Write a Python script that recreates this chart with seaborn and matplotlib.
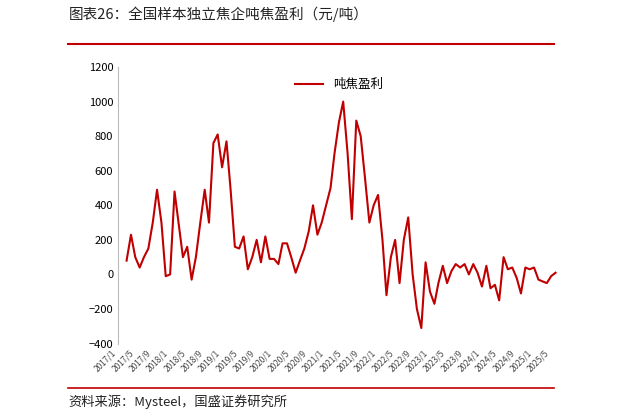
import matplotlib
matplotlib.use("Agg")
import matplotlib.pyplot as plt
import seaborn as sns
import pandas as pd
import numpy as np

dates = ["2017-03","2017-04","2017-05","2017-06","2017-07","2017-08","2017-09","2017-10","2017-11","2017-12",
"2018-01","2018-02","2018-03","2018-04","2018-05","2018-06","2018-07","2018-08","2018-09","2018-10","2018-11","2018-12",
"2019-01","2019-02","2019-03","2019-04","2019-05","2019-06","2019-07","2019-08","2019-09","2019-10","2019-11","2019-12",
"2020-01","2020-02","2020-03","2020-04","2020-05","2020-06","2020-07","2020-08","2020-09","2020-10","2020-11","2020-12",
"2021-01","2021-02","2021-03","2021-04","2021-05","2021-06","2021-07","2021-08","2021-09","2021-10","2021-11","2021-12",
"2022-01","2022-02","2022-03","2022-04","2022-05","2022-06","2022-07","2022-08","2022-09","2022-10","2022-11","2022-12",
"2023-01","2023-02","2023-03","2023-04","2023-05","2023-06","2023-07","2023-08","2023-09","2023-10","2023-11","2023-12",
"2024-01","2024-02","2024-03","2024-04","2024-05","2024-06","2024-07","2024-08","2024-09","2024-10","2024-11","2024-12",
"2025-01","2025-02","2025-03","2025-04","2025-05","2025-06"]
profit = [80,230,100,40,100,150,300,490,300,-10,
0,480,300,100,160,-30,100,300,490,300,760,810,
620,770,500,160,150,220,30,100,200,70,220,90,
90,60,180,180,100,10,80,150,250,400,230,300,
400,500,700,880,1000,700,320,890,800,560,300,400,
460,200,-120,100,200,-50,200,330,0,-200,-310,70,
-100,-170,-50,50,-50,20,60,40,60,0,60,10,
-70,50,-80,-60,-150,100,30,40,-20,-110,40,30,
40,-30,-40,-50,-10,10]
tick_labels = [f"{y}/{m}" for y in range(2017, 2026) for m in (1, 5, 9)][:26]

plt.rcParams['font.family'] = ['Noto Sans CJK SC', 'DejaVu Sans']
df = pd.DataFrame({"date": pd.to_datetime(dates), "吨焦盈利": profit})

fig = plt.figure(figsize=(6.22, 4.19), dpi=100)
ax = fig.add_axes([0.19, 0.18, 0.71, 0.66])
sns.lineplot(data=df, x="date", y="吨焦盈利", ax=ax, color="#C00000", lw=1.5, label="吨焦盈利")
ticks = pd.to_datetime([t.replace("/", "-") + "-01" for t in tick_labels])
ax.set_xticks(ticks)
ax.set_xticklabels(tick_labels, rotation=45, fontsize=6, ha="right", color="#444444")
ax.set_xlim(pd.Timestamp("2017-01-01"), pd.Timestamp("2025-07-01"))
ax.set_ylim(-400, 1200)
ax.set_yticks(range(-400, 1201, 200))
ax.tick_params(axis="y", labelsize=8, length=0)
ax.tick_params(axis="x", length=0)
for s in ["top", "right", "bottom"]:
    ax.spines[s].set_visible(False)
ax.spines["left"].set_color("#bbbbbb")
ax.set_xlabel(""); ax.set_ylabel("")
ax.legend(loc="upper center", frameon=False, fontsize=9, handlelength=2.2)

fig.text(0.11, 0.955, "图表26：全国样本独立焦企吨焦盈利（元/吨）", fontsize=10.5, style="italic", color="#222222")
fig.add_artist(plt.Line2D([0.11, 0.89], [0.895, 0.895], color="#C00000", lw=1.5))
fig.add_artist(plt.Line2D([0.11, 0.89], [0.075, 0.075], color="#C00000", lw=1.2))
fig.text(0.11, 0.03, "资料来源：Mysteel，国盛证券研究所", fontsize=9.5, style="italic", color="#222222")
fig.savefig("out.png", dpi=100)
